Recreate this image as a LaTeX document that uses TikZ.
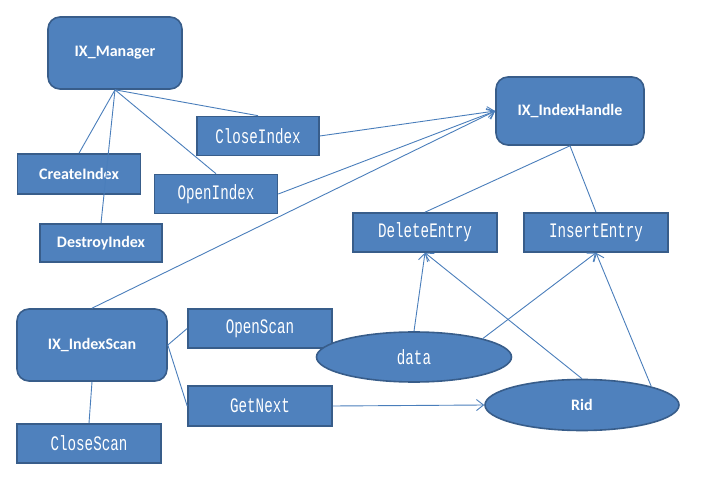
\documentclass[tikz,border=0pt]{standalone}
\usepackage{fontspec}
\usepackage{graphicx}
\setmainfont{Carlito}
\newfontfamily\monof{Liberation Mono}
\usetikzlibrary{arrows.meta,shapes.geometric}
\definecolor{fillc}{HTML}{4F81BD}
\definecolor{bordc}{HTML}{385D8A}
\definecolor{linec}{HTML}{4A7EBB}
\newcommand\mtext[1]{\scalebox{1}[1.45]{#1}}
\begin{document}
\begin{tikzpicture}[x=1pt,y=-1pt,
  base/.style={draw=bordc, fill=fillc, line width=1.6pt, text=white, inner sep=0pt},
  rbox/.style={base, rounded corners=12pt, font=\fontsize{16}{18}\selectfont\bfseries},
  cbox/.style={base, font=\fontsize{16}{18}\selectfont\bfseries},
  mbox/.style={base, font=\monof\fontsize{14.2}{16}\selectfont},
  oval/.style={base, ellipse},
  conn/.style={draw=linec, line width=0.9pt},
  arr/.style={conn, -{Straight Barb[length=7pt,width=11pt]}}
]
\useasboundingbox (0,0) rectangle (705,481);
% nodes
\node[rbox, minimum width=134pt, minimum height=72pt] (mgr) at (115,53) {IX\_Manager};
\node[mbox, minimum width=122pt, minimum height=39pt] (ci) at (258,136) {\mtext{CloseIndex}};
\node[cbox, minimum width=123pt, minimum height=40pt] (cr) at (79,174) {CreateIndex};
\node[mbox, minimum width=123pt, minimum height=39pt] (oi) at (216,194) {\mtext{OpenIndex}};
\node[cbox, minimum width=122pt, minimum height=38pt] (di) at (101,243) {DestroyIndex};
\node[rbox, minimum width=148pt, minimum height=68pt] (ih) at (570,111) {IX\_IndexHandle};
\node[mbox, minimum width=144pt, minimum height=39pt] (de) at (425,232.5) {\mtext{DeleteEntry}};
\node[mbox, minimum width=144pt, minimum height=39pt] (ie) at (596,232.5) {\mtext{InsertEntry}};
\node[rbox, minimum width=150pt, minimum height=72pt] (is) at (92,345) {IX\_IndexScan};
\node[mbox, minimum width=144pt, minimum height=39pt] (os) at (260,328.5) {\mtext{OpenScan}};
\node[mbox, minimum width=144pt, minimum height=40pt] (gn) at (260,406) {\mtext{GetNext}};
\node[mbox, minimum width=144pt, minimum height=39pt] (cs) at (89,443.5) {\mtext{CloseScan}};
\node[oval, font=\monof\fontsize{14.2}{16}\selectfont, minimum width=195pt, minimum height=50pt] (data) at (414,357) {\mtext{data}};
\node[oval, font=\fontsize{16}{18}\selectfont\bfseries, minimum width=194pt, minimum height=51pt] (rid) at (582,405) {Rid};
% connectors
\draw[conn] (mgr.south) -- (cr.north);
\draw[conn] (mgr.south) -- (di.north);
\draw[conn] (mgr.south) -- (oi.north);
\draw[conn] (mgr.south) -- (ci.north);
\draw[arr] (ci.east) -- (ih.west);
\draw[arr] (oi.east) -- (ih.west);
\draw[arr] (is.north) -- (ih.west);
\draw[conn] (ih.south) -- (de.north);
\draw[conn] (ih.south) -- (ie.north);
\draw[conn] (is.east) -- (os.west);
\draw[conn] (is.east) -- (gn.west);
\draw[conn] (is.south) -- (cs.north);
\draw[arr] (gn.east) -- (rid.west);
\draw[arr] (data.north) -- (de.south);
\draw[arr] (data.15) -- (ie.south);
\draw[arr] (rid.north) -- (de.south);
\draw[arr] (rid.15) -- (ie.south);
\end{tikzpicture}
\end{document}
